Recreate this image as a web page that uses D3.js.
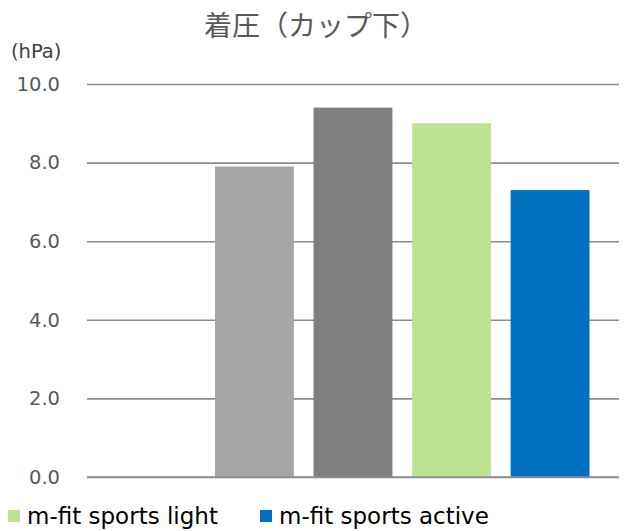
<!DOCTYPE html>
<html>
<head>
<meta charset="utf-8">
<script src="https://cdn.jsdelivr.net/npm/d3@7"></script>
<style>
  body { margin: 0; background: #fff; }
  svg text { font-family: "DejaVu Sans", Verdana, sans-serif; }
</style>
</head>
<body>
<div id="chart"></div>
<script>
// data
var title = '着圧（カップ下）';
var unitLabel = '(hPa)';
var seriesKeys = ['s0', 's1', 's2', 's3', 's4'];
var seriesValues = [null, 7.9, 9.4, 9.0, 7.3];
var seriesColors = ['#ffffff', '#a5a5a5', '#7f7f7f', '#bce292', '#0070c0'];
var legendNames = ['m-fit sports light', 'm-fit sports active'];
var legendColors = ['#bce292', '#0070c0'];
var yTicks = [0, 2, 4, 6, 8, 10];

var width = 628, height = 531;
var plotLeft = 87, plotRight = 619, plotTop = 84, plotBottom = 477;

var svg = d3.select('#chart').append('svg')
    .attr('width', width)
    .attr('height', height);

var x = d3.scaleBand()
    .domain(seriesKeys)
    .range([plotLeft + 29.5, plotRight - 29.5])
    .paddingInner(0.2)
    .paddingOuter(0);

var y = d3.scaleLinear()
    .domain([0, 10])
    .range([plotBottom, plotTop]);

// gridlines + tick labels
var yAxis = d3.axisLeft(y)
    .tickValues(yTicks)
    .tickSize(-(plotRight - plotLeft))
    .tickPadding(27)
    .tickFormat(d3.format('.1f'));

var gAxis = svg.append('g')
    .attr('transform', 'translate(' + plotLeft + ',0)')
    .call(yAxis);
gAxis.select('.domain').remove();
gAxis.selectAll('.tick line')
    .attr('stroke', '#8c8c8c')
    .attr('stroke-width', 1.6);
gAxis.selectAll('.tick text')
    .attr('fill', '#595959')
    .style('font-size', '19.5px');

// bars
svg.append('g').selectAll('rect')
    .data(seriesKeys.filter(function (k, i) { return seriesValues[i] != null; }))
    .enter().append('rect')
    .attr('x', function (k) { return x(k); })
    .attr('width', x.bandwidth())
    .attr('y', function (k) { return y(seriesValues[seriesKeys.indexOf(k)]); })
    .attr('height', function (k) { return y(0) - y(seriesValues[seriesKeys.indexOf(k)]); })
    .attr('fill', function (k) { return seriesColors[seriesKeys.indexOf(k)]; });

// redraw baseline over bars
svg.append('line')
    .attr('x1', plotLeft).attr('x2', plotRight)
    .attr('y1', y(0)).attr('y2', y(0))
    .attr('stroke', '#8c8c8c')
    .attr('stroke-width', 1.6);

// title
svg.append('text')
    .attr('x', 316)
    .attr('y', 36)
    .attr('text-anchor', 'middle')
    .attr('fill', '#595959')
    .style('font-family', '"Noto Sans CJK JP", sans-serif')
    .style('font-size', '28px')
    .text(title);

// unit label
svg.append('text')
    .attr('x', 11)
    .attr('y', 58)
    .attr('fill', '#404040')
    .style('font-size', '19.5px')
    .text(unitLabel);

// legend
var legendX = [8, 260];
var legend = svg.append('g').selectAll('g')
    .data(legendNames)
    .enter().append('g')
    .attr('transform', function (d, i) { return 'translate(' + legendX[i] + ',0)'; });

legend.append('rect')
    .attr('x', 0)
    .attr('y', 510)
    .attr('width', 12)
    .attr('height', 12)
    .attr('fill', function (d, i) { return legendColors[i]; });

legend.append('text')
    .attr('x', 19)
    .attr('y', 524)
    .attr('fill', '#000')
    .style('font-size', '23px')
    .text(function (d) { return d; });
</script>
</body>
</html>
